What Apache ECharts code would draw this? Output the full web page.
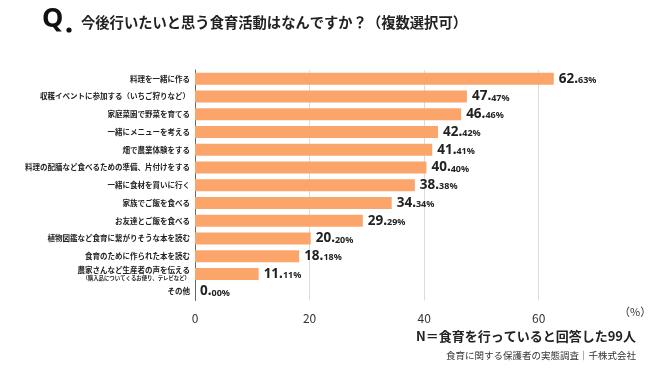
<!DOCTYPE html>
<html><head><meta charset="utf-8">
<script src="https://cdn.jsdelivr.net/npm/echarts@6/dist/echarts.min.js"></script>
<style>html,body{margin:0;padding:0;background:#fff}#c{width:650px;height:380px}</style>
</head><body><div id="c"></div>
<script>
const categories = [
  "料理を一緒に作る",
  "収穫イベントに参加する（いちご狩りなど）",
  "家庭菜園で野菜を育てる",
  "一緒にメニューを考える",
  "畑で農業体験をする",
  "料理の配膳など食べるための準備、片付けをする",
  "一緒に食材を買いに行く",
  "家族でご飯を食べる",
  "お友達とご飯を食べる",
  "植物図鑑など食育に繋がりそうな本を読む",
  "食育のために作られた本を読む",
  "農家さんなど生産者の声を伝える",
  "その他"
];
const subNotes = {"農家さんなど生産者の声を伝える": "（購入品についてくるお便り、テレビなど）"};
const values = [62.63, 47.47, 46.46, 42.42, 41.41, 40.40, 38.38, 34.34, 29.29, 20.20, 18.18, 11.11, 0.00];
const xTicks = [0, 20, 40, 60];

const font = '"Noto Sans CJK JP", "Noto Sans", sans-serif';
const chart = echarts.init(document.getElementById('c'));
chart.setOption({
  animation: false,
  backgroundColor: '#fff',
  grid: {left: 195, right: 54, top: 70, bottom: 79.5, containLabel: false},
  xAxis: {
    type: 'value', min: 0, max: 70, interval: 20,
    axisLine: {show: false}, axisTick: {show: false},
    splitLine: {show: true, showMaxLine: false, lineStyle: {color: '#dcdcdc', width: 1}},
    axisLabel: {
      showMaxLabel: false, color: '#333', fontSize: 12, fontFamily: font, margin: 12,
      formatter: v => xTicks.includes(v) ? String(v) : ''
    }
  },
  yAxis: {
    type: 'category', data: categories, inverse: true,
    axisLine: {show: true, lineStyle: {color: '#666', width: 1}},
    axisTick: {show: false},
    axisLabel: {
      margin: 5, color: '#222', fontSize: 7.5, fontWeight: 'bold', fontFamily: font,
      formatter: v => subNotes[v] ? v + '\n{s|' + subNotes[v] + '}' : v,
      rich: {s: {fontSize: 5.4, fontWeight: 'bold', color: '#222', fontFamily: font, align: 'right', lineHeight: 8}}
    }
  },
  series: [{
    type: 'bar', data: values, barWidth: 12,
    itemStyle: {color: '#FBA56B'},
    label: {
      show: true, position: 'right', distance: 5,
      formatter: p => {
        const s = p.value.toFixed(2).split('.');
        return '{a|' + s[0] + '.}{b|' + s[1] + '%}';
      },
      rich: {
        a: {fontSize: 13.5, fontWeight: 'bold', color: '#222', fontFamily: '"Noto Sans", sans-serif'},
        b: {fontSize: 9, fontWeight: 'bold', color: '#222', fontFamily: '"Noto Sans", sans-serif', padding: [3, 0, 0, 0]}
      }
    }
  }],
  graphic: [
    {type: 'text', left: 42, top: 6, style: {text: 'Q', font: 'bold 27px "Noto Sans", sans-serif', fill: '#111'}},
    {type: 'circle', shape: {cx: 69, cy: 30, r: 2.6}, style: {fill: '#111'}},
    {type: 'text', left: 81, top: 15, style: {text: '今後行いたいと思う食育活動はなんですか？（複数選択可）', font: 'bold 14.3px "Noto Sans CJK JP", sans-serif', fill: '#222'}},
    {type: 'text', left: 619, top: 306, style: {text: '（%）', font: '11px "Noto Sans CJK JP", sans-serif', fill: '#333'}},
    {type: 'text', right: 14, top: 330, style: {text: 'N＝食育を行っていると回答した99人', font: 'bold 13px "Noto Sans CJK JP", sans-serif', fill: '#222'}},
    {type: 'text', right: 14, top: 351, style: {text: '食育に関する保護者の実態調査｜千株式会社', font: '9.5px "Noto Sans CJK JP", sans-serif', fill: '#333'}}
  ]
});
</script></body></html>
